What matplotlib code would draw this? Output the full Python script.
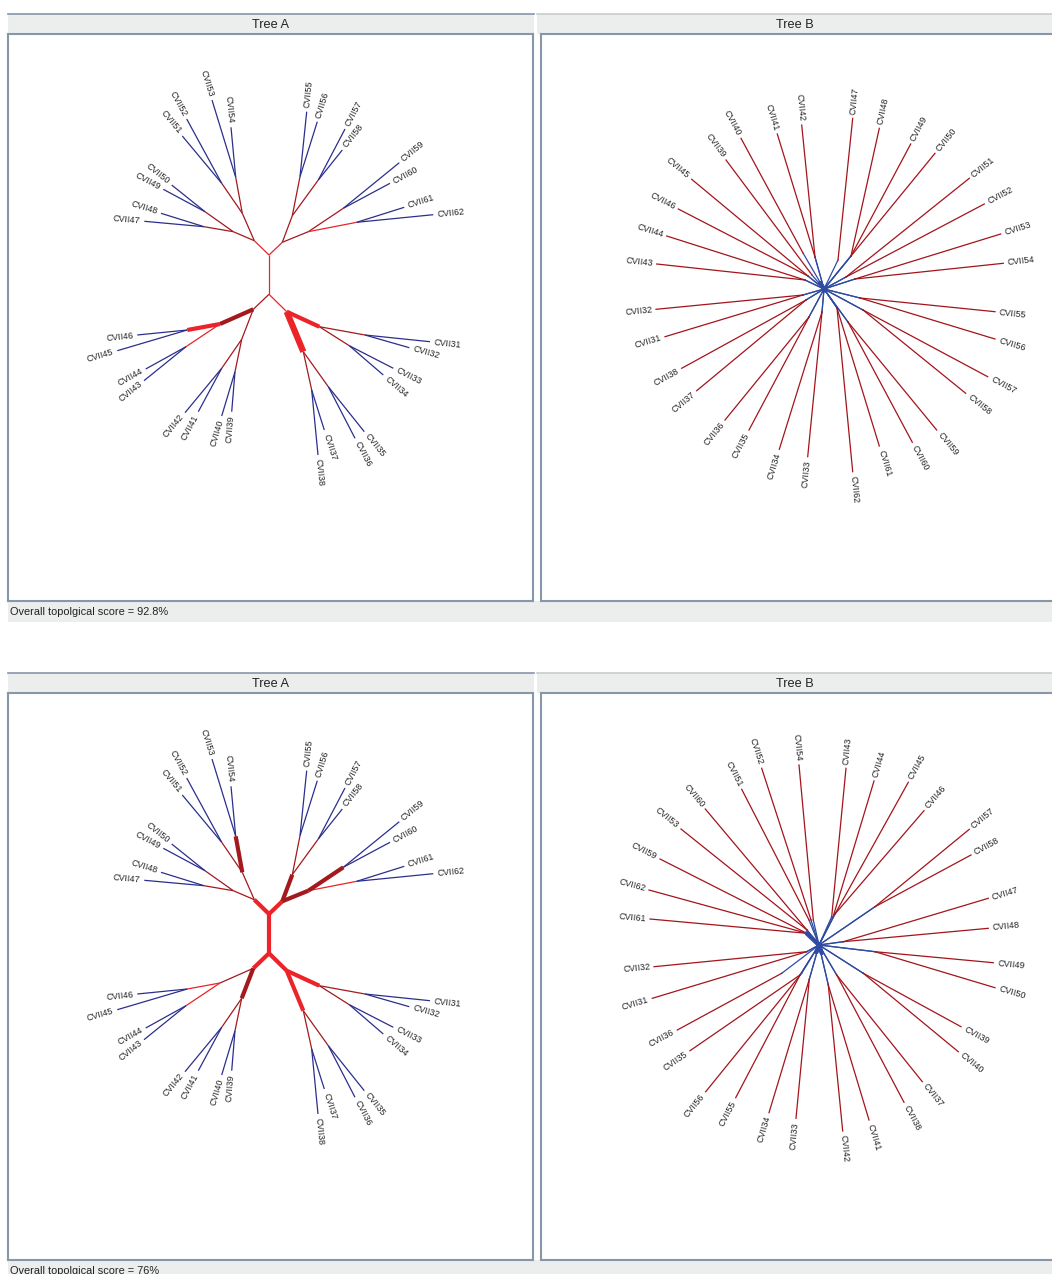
import numpy as np
import matplotlib.pyplot as plt

plt.rcParams['font.family'] = ['Liberation Sans', 'DejaVu Sans']

W, H = 1052, 1274

# ---------------- Tree A : same topology in both rows ----------------
# node name, parent, layout position (px from tree centre, y up)
a_nodes = ["r1", "r2", "L", "R", "L1", "L2", "L11", "L12",
           "CVII53", "CVII54", "CVII52", "CVII51", "L21", "L22",
           "CVII50", "CVII49", "CVII48", "CVII47",
           "R1", "R11", "R12", "CVII55", "CVII56", "CVII57", "CVII58",
           "R2", "R21", "R22", "CVII59", "CVII60", "CVII61", "CVII62",
           "B1", "B11", "B111", "CVII46", "CVII45", "B112", "CVII44", "CVII43",
           "B12", "B121", "CVII42", "CVII41", "B122", "CVII40", "CVII39",
           "B2", "B21", "B211", "CVII31", "CVII32", "B212", "CVII33", "CVII34",
           "B22", "B221", "CVII37", "CVII38", "B222", "CVII35", "CVII36"]
a_parent = [None, "r1", "r1", "r1", "L", "L", "L1", "L1",
            "L11", "L11", "L12", "L12", "L2", "L2",
            "L21", "L21", "L22", "L22",
            "R", "R1", "R1", "R11", "R11", "R12", "R12",
            "R", "R2", "R2", "R21", "R21", "R22", "R22",
            "r2", "B1", "B11", "B111", "B111", "B11", "B112", "B112",
            "B1", "B12", "B121", "B121", "B12", "B122", "B122",
            "r2", "B2", "B21", "B211", "B211", "B21", "B212", "B212",
            "B2", "B22", "B221", "B221", "B22", "B222", "B222"]
a_x = [0, 0, -14.7, 13.3, -26.7, -35.7, -33.3, -47.3,
       -57, -38, -82.3, -86.7, -64, -65,
       -97.3, -105.7, -108, -124.7,
       23.3, 31, 49.3, 37.7, 48.3, 76, 73.3,
       39.3, 74.3, 87.7, 130.3, 121, 135.3, 164.3,
       -15.7, -49, -81.7, -131.7, -151.7, -83, -123.3, -125,
       -27.3, -47.3, -84, -70.7, -34, -47.3, -37.3,
       17.7, 50.3, 96, 161, 140.3, 80.3, 124.3, 114.3,
       34.3, 42.7, 55.3, 49, 59.3, 95.3, 86]
a_y = [19.5, -19.8, 33.8, 32.2, 61.2, 42.8, 97.2, 91.2,
       174.5, 147.2, 155.5, 138.5, 62.8, 47.8,
       89.5, 85.2, 61.2, 53.2,
       58.8, 97.8, 94.5, 162.8, 152.8, 145.5, 124.5,
       42.8, 66.2, 52.2, 111.8, 91.2, 67.2, 59.8,
       -34.8, -49.5, -55.5, -60.5, -76.2, -72.2, -94.5, -106.2,
       -64.8, -93.8, -138.2, -137.2, -97.2, -141.5, -137.2,
       -37.2, -52.2, -60.5, -67.2, -73.2, -71.2, -93.8, -100.5,
       -77.2, -115.5, -155.5, -180.5, -112.2, -157.2, -163.8]
# edge class to parent: b leaf, d dark red, D dark red thick,
# r red, R red thick, X red very thick
a_class_top = ["", "r", "r", "r", "d", "d", "d", "d",
               "b", "b", "b", "b", "d", "d",
               "b", "b", "b", "b",
               "d", "d", "d", "b", "b", "b", "b",
               "d", "d", "r", "b", "b", "b", "b",
               "d", "D", "R", "b", "b", "r", "b", "b",
               "d", "d", "b", "b", "d", "b", "b",
               "r", "R", "d", "b", "b", "d", "b", "b",
               "X", "d", "b", "b", "d", "b", "b"]
a_class_bot = ["", "R", "R", "R", "d", "d", "D", "d",
               "b", "b", "b", "b", "d", "d",
               "b", "b", "b", "b",
               "D", "d", "d", "b", "b", "b", "b",
               "D", "D", "r", "b", "b", "b", "b",
               "R", "d", "r", "b", "b", "r", "b", "b",
               "D", "d", "b", "b", "d", "b", "b",
               "R", "R", "d", "b", "b", "d", "b", "b",
               "R", "d", "b", "b", "d", "b", "b"]

# ---------------- Tree B, first comparison ----------------
b1_leaf = ["CVII43", "CVII44", "CVII46", "CVII45", "CVII39", "CVII40", "CVII41", "CVII42",
           "CVII47", "CVII48", "CVII49", "CVII50", "CVII51", "CVII52", "CVII53", "CVII54",
           "CVII55", "CVII56", "CVII57", "CVII58", "CVII59", "CVII60", "CVII61", "CVII62",
           "CVII33", "CVII34", "CVII35", "CVII36", "CVII37", "CVII38", "CVII31", "CVII32"]
b1_tip_x = [-167.3, -157.3, -145.7, -132.3, -98, -83, -46.7, -22.3,
            28.7, 55.3, 86.7, 111, 145.3, 160.3, 176.7, 179.3,
            171, 171, 163.7, 141.7, 112.7, 88.3, 55.3, 28.7,
            -16.3, -44.7, -75, -99, -127.3, -142.3, -159, -168]
b1_tip_y = [25, 53, 80, 109.7, 129, 150.7, 155, 164,
            170.7, 160.7, 145, 135.7, 110.7, 85, 55, 25.7,
            -22.7, -50, -87.7, -104.3, -141, -153.3, -157, -182.7,
            -167.7, -160.3, -141, -131, -101.7, -79.3, -47.7, -20.3]
b1_join_x = [-19, -19, -16, -16, -12, -21, -9, -9,
             14, 27, 27, 27, 22, 22, 31, 31,
             36, 36, 39, 39, 24, 24, 13, 13,
             -2, -2, -15, -15, -18, -18, -21, -21]
b1_join_y = [9, 9, 13, 13, 14, 36, 32, 32,
             29, 33, 33, 33, 12, 12, 10, 10,
             -9, -9, -21, -21, -33, -33, -19, -19,
             -23, -23, -28, -28, -11, -11, -6, -6]
b1_core_x = [-4]
b1_core_y = [6]

# ---------------- Tree B, second comparison ----------------
b2_leaf = ["CVII32", "CVII31", "CVII61", "CVII62", "CVII59", "CVII53", "CVII60", "CVII51",
           "CVII52", "CVII54", "CVII43", "CVII44", "CVII45", "CVII46", "CVII57", "CVII58",
           "CVII47", "CVII48", "CVII49", "CVII50", "CVII39", "CVII40", "CVII37", "CVII38",
           "CVII41", "CVII42", "CVII33", "CVII34", "CVII55", "CVII56", "CVII35", "CVII36"]
b2_tip_x = [-165, -166.7, -169, -170, -159, -138, -113.7, -77.3,
            -57.3, -20, 27, 55, 89.3, 105, 150.3, 152,
            169.3, 169.3, 174.3, 176, 142, 139.3, 103.3, 85,
            50, 23.7, -23, -50, -83.3, -113.3, -129, -141.7]
b2_tip_y = [-21.7, -53.3, 26, 55, 86, 116, 136, 155.7,
            176.7, 180, 176.7, 164, 162.7, 134.3, 115.7, 90,
            46.7, 16.7, -17.7, -42.7, -81.7, -106.7, -136.7, -157.3,
            -175, -186, -173.3, -167.7, -152.7, -146.7, -105.7, -85]
b2_join_x = [-12.3, -12.3, -12.3, -12.3, -9, -12, -12, -10,
             -8, -5.7, 12.7, 14, 16, 16, 56, 56,
             24.3, 24.3, 56, 56, 44.3, 44.3, 17.7, 17.7,
             9.3, 9.3, -9.7, -9.7, -19, -17.3, -19, -37.3]
b2_join_y = [-6.7, -6.7, 11.7, 11.7, 10, 15, 15, 25,
             25, 25, 28.3, 28, 31, 31, 38.3, 38.3,
             3.3, 3.3, -6.7, -6.7, -28.3, -28.3, -30, -30,
             -40, -40, -34.3, -34.3, -30, -28.3, -30, -28.3]
b2_core_x = [-12.3, -2.5, 2.7]
b2_core_y = [11.7, -7, -8]

scores = ["92.8%", "76%"]

# ---------------- styles ----------------
BLUE_A = '#2b2f8c'
DARK = '#a3191d'
RED = '#ec2328'
BLUE_B = '#2f4ca2'
RED_B = '#a3141b'
FRAME = '#8796a8'
BAR = '#eceeee'
TXT = '#222222'
a_style = {'b': (BLUE_A, 0.9), 'd': (DARK, 0.9), 'D': (DARK, 3.0),
           'r': (RED, 0.9), 'R': (RED, 3.0), 'X': (RED, 4.5)}

fig = plt.figure(figsize=(W / 100, H / 100), dpi=100)
bg = fig.add_axes([0, 0, 1, 1])
bg.set_xlim(0, W)
bg.set_ylim(H, 0)
bg.axis('off')


def header(x0, x1, y0, y1, title, top_col):
    bg.add_patch(plt.Rectangle((x0, y0), x1 - x0, y1 - y0, facecolor=BAR,
                               edgecolor='none'))
    bg.plot([x0, x1], [y0, y0], color=top_col, lw=1.2)
    bg.text((x0 + x1) / 2, (y0 + y1) / 2 + 1, title, ha='center', va='center',
            fontsize=9.2, color=TXT)


def tree_axes(x0, y0, x1, y1, cx, cy):
    ax = fig.add_axes([x0 / W, 1 - y1 / H, (x1 - x0) / W, (y1 - y0) / H])
    ax.set_xlim(x0 - cx, x1 - cx)
    ax.set_ylim(cy - y1, cy - y0)
    ax.set_xticks([])
    ax.set_yticks([])
    for s in ax.spines.values():
        s.set_color(FRAME)
        s.set_linewidth(1.5)
    return ax


def put_label(ax, name, x0, y0, x1, y1):
    ang = np.degrees(np.arctan2(y1 - y0, x1 - x0))
    ux, uy = np.cos(np.radians(ang)), np.sin(np.radians(ang))
    tx, ty = x1 + 4 * ux, y1 + 4 * uy
    if ang > 90 or ang < -90:
        rot, ha = (ang - 180 if ang > 0 else ang + 180), 'right'
    else:
        rot, ha = ang, 'left'
    ax.text(tx, ty, name, rotation=rot, rotation_mode='anchor', ha=ha,
            va='center', fontsize=6.4, color=TXT)


def draw_tree_a(ax, classes):
    pos = {n: (x, y) for n, x, y in zip(a_nodes, a_x, a_y)}
    # thin first, thick on top
    order = sorted(range(len(a_nodes)), key=lambda i: a_style.get(classes[i], ('', 0))[1])
    for i in order:
        n, p = a_nodes[i], a_parent[i]
        if p is None:
            continue
        col, lw = a_style[classes[i]]
        (x0, y0), (x1, y1) = pos[p], pos[n]
        ax.plot([x0, x1], [y0, y1], color=col, lw=lw, solid_capstyle='butt')
        if n.startswith("CVII"):
            put_label(ax, n, x0, y0, x1, y1)


def draw_tree_b(ax, leaf, tx, ty, jx, jy, cx_, cy_):
    for n, x1, y1, x0, y0 in zip(leaf, tx, ty, jx, jy):
        ax.plot([0, x0], [0, y0], color=BLUE_B, lw=0.9)
        ax.plot([x0, x1], [y0, y1], color=RED_B, lw=0.9)
        put_label(ax, n, x0, y0, x1, y1)
    for x, y in zip(cx_, cy_):
        ax.plot([0, x], [0, y], color=BLUE_B, lw=3.2, solid_capstyle='round')
    ax.plot(0, 0, 'o', color=BLUE_B, ms=3.5)


rows = [(14, 34, 601), (673, 693, 1260)]
b_centres = [(824, 289), (819, 945)]
b_data = [(b1_leaf, b1_tip_x, b1_tip_y, b1_join_x, b1_join_y, b1_core_x, b1_core_y),
          (b2_leaf, b2_tip_x, b2_tip_y, b2_join_x, b2_join_y, b2_core_x, b2_core_y)]
a_classes = [a_class_top, a_class_bot]

for k, (hy, py0, py1) in enumerate(rows):
    header(8, 534, hy, py0, "Tree A", FRAME)
    header(537, W, hy, py0, "Tree B", '#c8cccc')
    bg.add_patch(plt.Rectangle((8, py1), W - 8, 21, facecolor=BAR, edgecolor='none'))
    bg.text(10, py1 + 11, "Overall topolgical score = " + scores[k], ha='left',
            va='center', fontsize=7.9, color=TXT)

    axa = tree_axes(8, py0, 533, py1, 269, (py0 + py1) / 2 - 43)
    draw_tree_a(axa, a_classes[k])

    cx, cy = b_centres[k]
    axb = tree_axes(541, py0, W + 6, py1, cx, cy)
    draw_tree_b(axb, *b_data[k])

fig.savefig('out.png', dpi=100)
